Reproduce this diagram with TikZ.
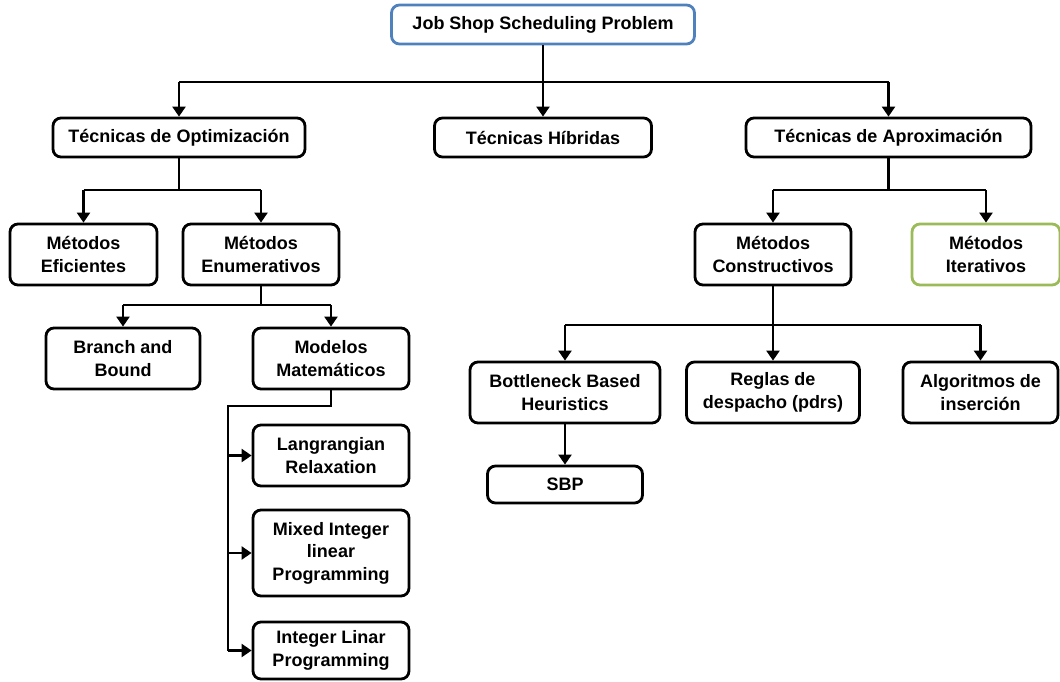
\documentclass[tikz,border=0pt]{standalone}
\usepackage{fontspec}
\setmainfont{Liberation Sans}
\usepackage{tikz}
\usepackage{xcolor}
\usetikzlibrary{arrows.meta}
\definecolor{root-blue}{RGB}{79,129,189}
\definecolor{iter-green}{RGB}{155,187,89}
\tikzset{
    plain-box/.style = {draw=black, fill=white, line width=2.8pt, rectangle, rounded corners=8pt, inner sep=0pt, align=center, font=\bfseries\fontsize{18}{22.5}\selectfont},
    box-size/.style 2 args = {minimum width=#1pt, minimum height=#2pt},
    stem/.style = {line width=2.3pt},
    bus/.style = {line width=1.6pt},
    drop/.style = {line width=2.3pt, -{Triangle[width=13pt,length=10pt]}},
}

\begin{document}
\begin{tikzpicture}[x=1pt,y=-1pt]
\useasboundingbox (0,0) rectangle (1060,681);
\node [plain-box, box-size={303}{39}, draw=root-blue] (root) at (543,24.5) {Job Shop Scheduling Problem};
\node [plain-box, box-size={252}{39}] (opt) at (179,137.5) {Técnicas de Optimización};
\node [plain-box, box-size={217}{39}] (hib) at (543,137.5) {Técnicas Híbridas};
\node [plain-box, box-size={285}{39}] (aprox) at (888.5,137.5) {Técnicas de Aproximación};
\node [plain-box, box-size={147}{61}] (efic) at (83.5,254.5) {Métodos\\Eficientes};
\node [plain-box, box-size={156}{61}] (enum) at (261,254.5) {Métodos\\Enumerativos};
\node [plain-box, box-size={156}{61}] (constr) at (773,254.5) {Métodos\\Constructivos};
\node [plain-box, box-size={148}{61}, draw=iter-green] (iter) at (986,254.5) {Métodos\\Iterativos};
\node [plain-box, box-size={154}{61}] (branch) at (123,358.5) {Branch and\\Bound};
\node [plain-box, box-size={156}{61}] (modelos) at (331,358.5) {Modelos\\Matemáticos};
\node [plain-box, box-size={156}{61}] (lang) at (331,455.5) {Langrangian\\Relaxation};
\node [plain-box, box-size={156}{86}] (mixed) at (331,553) {Mixed Integer\\linear\\Programming};
\node [plain-box, box-size={156}{57}] (intlin) at (331,650.5) {Integer Linar\\Programming};
\node [plain-box, box-size={190}{61}] (bottle) at (565,392.5) {Bottleneck Based\\Heuristics};
\node [plain-box, box-size={173}{61}] (reglas) at (773,392.5) {Reglas de\\despacho (pdrs)};
\node [plain-box, box-size={155}{61}] (algo) at (980.5,392.5) {Algoritmos de\\inserción};
\node [plain-box, box-size={155}{37}] (sbp) at (565,484.5) {SBP};

\coordinate (root-bus) at (543,82);
\draw [stem] (root) -- (root-bus);
\draw [bus] (opt.north |- root-bus) -- (aprox.north |- root-bus);
\foreach \n in {opt,hib,aprox} \draw [drop] (\n.north |- root-bus) -- (\n.north);

\coordinate (opt-bus) at (179,190);
\draw [stem] (opt) -- (opt-bus);
\draw [bus] (efic.north |- opt-bus) -- (enum.north |- opt-bus);
\foreach \n in {efic,enum} \draw [drop] (\n.north |- opt-bus) -- (\n.north);

\coordinate (aprox-bus) at (888.5,190);
\draw [stem] (aprox) -- (aprox-bus);
\draw [bus] (constr.north |- aprox-bus) -- (iter.north |- aprox-bus);
\foreach \n in {constr,iter} \draw [drop] (\n.north |- aprox-bus) -- (\n.north);

\coordinate (enum-bus) at (261,305);
\draw [stem] (enum) -- (enum-bus);
\draw [bus] (branch.north |- enum-bus) -- (modelos.north |- enum-bus);
\foreach \n in {branch,modelos} \draw [drop] (\n.north |- enum-bus) -- (\n.north);

\coordinate (constr-bus) at (773,325);
\draw [stem] (constr) -- (constr-bus);
\draw [bus] (bottle.north |- constr-bus) -- (algo.north |- constr-bus);
\foreach \n in {bottle,reglas,algo} \draw [drop] (\n.north |- constr-bus) -- (\n.north);

\coordinate (mod-bus) at (228,406);
\draw [stem] (modelos.south) |- (mod-bus) -- (mod-bus |- intlin.west);
\foreach \n in {lang,mixed,intlin} \draw [drop] (mod-bus |- \n.west) -- (\n.west);

\draw [drop] (bottle) -- (sbp);
\end{tikzpicture}
\end{document}
